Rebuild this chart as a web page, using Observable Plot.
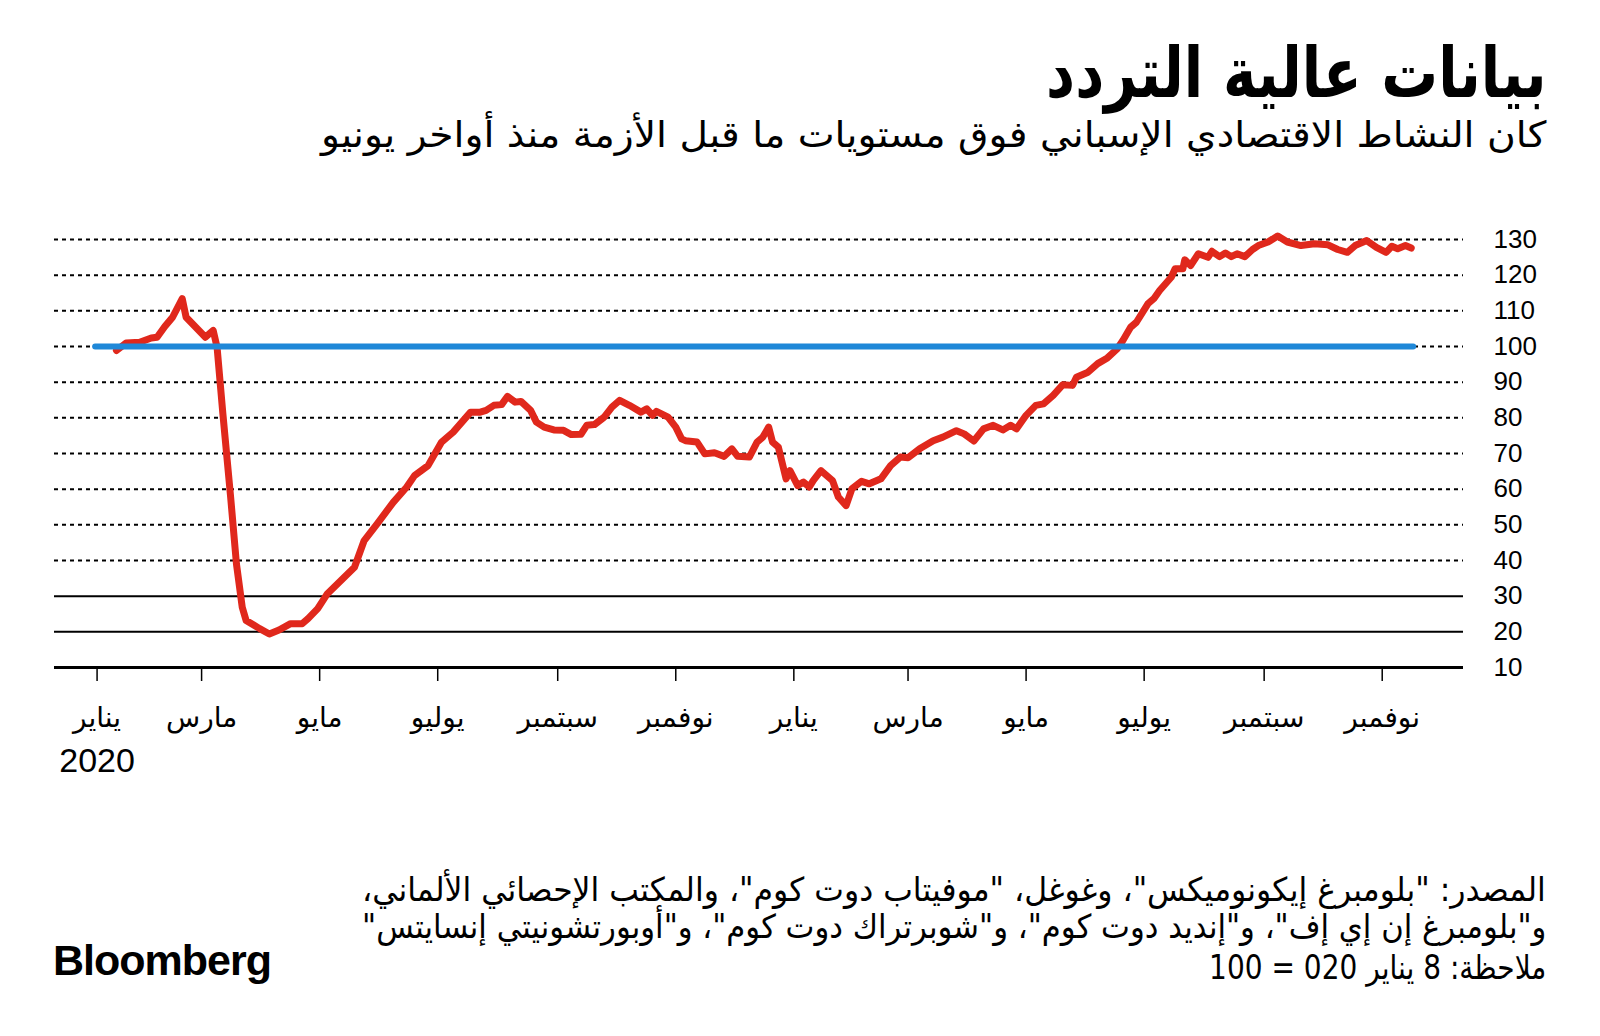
<!DOCTYPE html>
<html><head><meta charset="utf-8">
<script src="https://cdn.jsdelivr.net/npm/d3@7"></script>
<script src="https://cdn.jsdelivr.net/npm/@observablehq/plot@0.6"></script>
<style>
body{margin:0;background:#fff;}
#page{position:relative;width:1600px;height:1036px;overflow:hidden;background:#fff;}
.t{position:absolute;white-space:nowrap;direction:rtl;font-family:"DejaVu Sans",sans-serif;color:#000;line-height:1;transform-origin:right top;}
#chart{position:absolute;left:0;top:200px;}
#logo{position:absolute;left:53px;top:939px;font-family:"Liberation Sans",Arial,sans-serif;font-weight:bold;font-size:43px;line-height:1;letter-spacing:-1px;color:#000;}
</style></head><body>
<div id="page">
  <div class="t" id="title" data-w="500" style="right:54px;top:38px;font-size:70px;font-weight:bold;">بيانات عالية التردد</div>
  <div class="t" id="subtitle" data-w="1225" style="right:54px;top:117px;font-size:36px;">كان النشاط الاقتصادي الإسباني فوق مستويات ما قبل الأزمة منذ أواخر يونيو</div>
  <div id="chart"></div>
  <div class="t" data-w="1184" style="right:54px;top:873px;font-size:33px;">المصدر: "بلومبرغ إيكونوميكس"، وغوغل، "موفيتاب دوت كوم"، والمكتب الإحصائي الألماني،</div>
  <div class="t" data-w="1184" style="right:54px;top:910px;font-size:33px;">و"بلومبرغ إن إي إف"، و"إنديد دوت كوم"، و"شوبرتراك دوت كوم"، و"أوبورتشونيتي إنسايتس"</div>
  <div class="t" data-w="337" style="right:54px;top:951px;font-size:33px;">ملاحظة: 8 يناير 020 = 100</div>
  <div id="logo">Bloomberg</div>
</div>
<script>
const dates = ["2020-01-17","2020-01-22","2020-01-29","2020-02-04","2020-02-07","2020-02-11","2020-02-15","2020-02-20","2020-02-22","2020-02-27",
"2020-03-03","2020-03-07","2020-03-09","2020-03-12","2020-03-16","2020-03-19","2020-03-22","2020-03-24","2020-03-31","2020-04-05",
"2020-04-10","2020-04-16","2020-04-22","2020-04-25","2020-04-30","2020-05-05","2020-05-12","2020-05-19","2020-05-24","2020-05-31",
"2020-06-08","2020-06-15","2020-06-19","2020-06-26","2020-07-03","2020-07-09","2020-07-18","2020-07-23","2020-07-26","2020-07-30",
"2020-08-03","2020-08-06","2020-08-10","2020-08-13","2020-08-18","2020-08-21","2020-08-25","2020-08-30","2020-09-04","2020-09-08",
"2020-09-13","2020-09-16","2020-09-20","2020-09-25","2020-09-29","2020-10-03","2020-10-08","2020-10-14","2020-10-17","2020-10-20",
"2020-10-22","2020-10-28","2020-11-01","2020-11-04","2020-11-06","2020-11-12","2020-11-16","2020-11-21","2020-11-26","2020-11-30",
"2020-12-03","2020-12-09","2020-12-13","2020-12-16","2020-12-19","2020-12-21","2020-12-24","2020-12-28","2020-12-30","2021-01-03",
"2021-01-06","2021-01-09","2021-01-11","2021-01-15","2021-01-21","2021-01-24","2021-01-28","2021-01-31","2021-02-05","2021-02-09",
"2021-02-15","2021-02-20","2021-02-25","2021-03-01","2021-03-07","2021-03-14","2021-03-19","2021-03-26","2021-03-30","2021-04-04",
"2021-04-09","2021-04-14","2021-04-19","2021-04-23","2021-04-26","2021-05-01","2021-05-06","2021-05-10","2021-05-15","2021-05-20",
"2021-05-25","2021-05-27","2021-06-02","2021-06-07","2021-06-12","2021-06-17","2021-06-20","2021-06-24","2021-06-27","2021-07-03",
"2021-07-06","2021-07-09","2021-07-15","2021-07-17","2021-07-21","2021-07-22","2021-07-25","2021-07-29","2021-08-03","2021-08-05",
"2021-08-09","2021-08-12","2021-08-15","2021-08-18","2021-08-22","2021-08-26","2021-08-29","2021-09-03","2021-09-08","2021-09-13",
"2021-09-20","2021-09-27","2021-10-04","2021-10-09","2021-10-14","2021-10-18","2021-10-24","2021-10-29","2021-11-03","2021-11-06",
"2021-11-09","2021-11-13","2021-11-16"];
const values = [98.9,101,101.2,102.4,102.6,105.6,108.2,113.4,108.2,105.4,
102.6,104.5,99.8,81.1,57.8,39.1,26.9,23.2,20.9,19.4,
20.5,22.3,22.3,23.7,26.5,30.7,34.4,38.1,45.6,50.5,
56.3,60.6,63.8,66.6,73.2,76,81.6,81.6,82.1,83.5,
83.7,86,84.4,84.6,82.1,78.8,77.4,76.6,76.5,75.3,
75.4,77.9,78.1,80.2,83,84.9,83.5,81.6,82.5,80.7,
81.8,80.2,77.4,74.1,73.6,73.2,69.9,70.2,69.2,71.3,
69.2,69,73.2,74.6,77.4,73.2,71.8,62.9,65.2,61,
62,60.6,62.4,65.2,62.4,57.8,55.4,60.1,62.2,61.5,
62.9,66.6,69,68.8,71.3,73.6,74.6,76.4,75.5,73.5,
76.9,77.9,76.6,77.9,76.9,80.7,83.5,83.9,86.3,89.3,
89.1,91.4,92.8,95.2,96.8,99.3,101.7,105.4,106.8,112,
113.4,115.7,119.4,121.8,121.8,124.3,122.7,126,125,126.7,
125.2,126.2,125.2,126,125.2,127.2,128.3,129.3,131,129.3,
128.3,128.8,128.5,127.2,126.4,128.3,129.7,127.8,126.4,128.1,
127.4,128.3,127.6];
const baselineDates = ["2020-01-06","2021-11-17"];
const baselineValue = 100;
const dottedGrid = [40,50,60,70,80,90,100,110,120,130];
const solidGrid = [20,30];
const axisBase = 10;
const yTicks = [10,20,30,40,50,60,70,80,90,100,110,120,130];
const tickDates = ["2020-01-07","2020-03-01","2020-05-01","2020-07-01","2020-09-01","2020-11-01",
                   "2021-01-01","2021-03-01","2021-05-01","2021-07-01","2021-09-01","2021-11-01"];
const tickLabels = ["يناير","مارس","مايو","يوليو","سبتمبر","نوفمبر","يناير","مارس","مايو","يوليو","سبتمبر","نوفمبر"];
const yearLabel = "2020";
const xDomain = ["2019-12-16","2021-12-13"];

const data = dates.map((d,i)=>({date:new Date(d), value:values[i]}));
const baseline = baselineDates.map(d=>({date:new Date(d), value:baselineValue}));
const ticks = tickDates.map(d=>new Date(d));
const labelMap = new Map(ticks.map((d,i)=>[+d, tickLabels[i]]));

const chart = Plot.plot({
  width:1600, height:600,
  marginLeft:54, marginRight:137, marginTop:39, marginBottom:133,
  x:{type:"utc", domain:xDomain.map(d=>new Date(d))},
  y:{domain:[10,130]},
  style:{fontFamily:"'Liberation Sans', Arial, sans-serif", background:"white", color:"#000", overflow:"visible"},
  marks:[
    Plot.ruleY(dottedGrid, {stroke:"#000", strokeWidth:2, strokeDasharray:"4,4"}),
    Plot.ruleY(solidGrid, {stroke:"#000", strokeWidth:2}),
    Plot.ruleY([axisBase], {stroke:"#000", strokeWidth:3}),
    Plot.axisY({anchor:"right", ticks:yTicks, tickSize:0, tickPadding:30, fontSize:26, label:null, tickFormat:d=>String(d)}),
    Plot.axisX({ticks:ticks, tickFormat:d=>labelMap.get(+d), tickSize:14, tickPadding:26, fontSize:28,
                fontFamily:"DejaVu Sans", label:null, stroke:"#000", strokeWidth:1.5}),
    Plot.text([yearLabel], {x:()=>ticks[0], text:d=>d, frameAnchor:"bottom", lineAnchor:"middle", dy:94, fontSize:34, fill:"#000"}),
    Plot.line(data, {x:"date", y:"value", stroke:"#e0281c", strokeWidth:7, strokeLinejoin:"round", strokeLinecap:"round"}),
    Plot.line(baseline, {x:"date", y:"value", stroke:"#1f88d8", strokeWidth:6, strokeLinecap:"round"})
  ]
});
document.getElementById("chart").appendChild(chart);

function fit(){
  document.querySelectorAll(".t[data-w]").forEach(el=>{
    el.style.transform="none";
    const w = el.offsetWidth;
    const target = +el.dataset.w;
    if (w>0) el.style.transform = `scaleX(${target/w})`;
  });
}
fit();
if (document.fonts && document.fonts.ready) document.fonts.ready.then(fit);
</script>
</body></html>
